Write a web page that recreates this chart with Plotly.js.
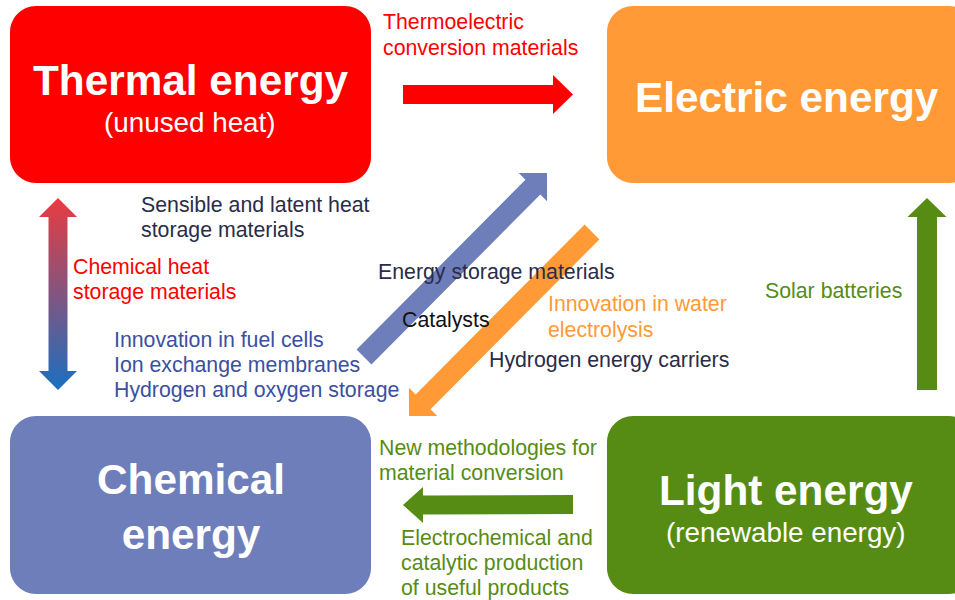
<!DOCTYPE html>
<html>
<head>
<meta charset="utf-8">
<script src="https://cdn.plot.ly/plotly-3.0.1.min.js"></script>
<style>html,body{margin:0;padding:0;background:#fff;}#chart{width:955px;height:600px;}</style>
</head>
<body>
<div id="chart"></div>
<script>
// ---- content (text and colours) ----
const boxTitles = ["Thermal energy", "Electric energy", "Chemical<br>energy", "Light energy"];
const boxSubtitles = ["(unused heat)", "", "", "(renewable energy)"];
const boxColors = ["#FF0000", "#FF9A36", "#6E7EBB", "#578C14"];

const arrowNames = ["thermoelectric", "solar", "storage", "electrolysis", "conversion", "chemheat"];
const arrowColors = ["#FF0000", "#578C14", "#6E7EBB", "#FF9A36", "#578C14", "gradient"];
const gradientColors = ["#EA3B40", "#1A6FC0"];

const noteLines = [
  "Thermoelectric", "conversion materials",
  "Sensible and latent heat", "storage materials",
  "Chemical heat", "storage materials",
  "Innovation in fuel cells", "Ion exchange membranes", "Hydrogen and oxygen storage",
  "Energy storage materials", "Catalysts",
  "Innovation in water", "electrolysis",
  "Hydrogen energy carriers",
  "Solar batteries",
  "New methodologies for", "material conversion",
  "Electrochemical and", "catalytic production", "of useful products"
];
const noteColors = [
  "#FF0000", "#FF0000",
  "#2A2C48", "#2A2C48",
  "#FF0000", "#FF0000",
  "#3B4FA0", "#3B4FA0", "#3B4FA0",
  "#2A2C48", "#111111",
  "#FF9A36", "#FF9A36",
  "#2A2C48",
  "#578C14",
  "#578C14", "#578C14",
  "#578C14", "#578C14", "#578C14"
];

// ---- layout geometry (pixel-space diagram coordinates) ----
const boxGeom = [
  {x0: 10, y0: 6, x1: 371, y1: 183, tx: 190, ty: 80, sy: 122},
  {x0: 607, y0: 6, x1: 975, y1: 183, tx: 787, ty: 97, sy: null},
  {x0: 10, y0: 416, x1: 371, y1: 594, tx: 191, ty: 507, sy: null},
  {x0: 607, y0: 416, x1: 975, y1: 594, tx: 786, ty: 490, sy: 532}
];
const arrowGeom = [
  {from: [403, 94.5], to: [573, 94.5], w: 9.5, h: 19.5, L: 20, dbl: false},
  {from: [927, 390], to: [927, 198], w: 10, h: 19.5, L: 19, dbl: false},
  {from: [364, 357], to: [547, 173], w: 10.5, h: 20, L: 20, dbl: false},
  {from: [592, 232], to: [409, 416], w: 10.5, h: 20, L: 20, dbl: false},
  {from: [573, 504.5], to: [403, 505], w: 9.5, h: 18, L: 20, dbl: false},
  {from: [58, 390], to: [58, 198], w: 9.5, h: 19, L: 19, dbl: true}
];
const notePos = [
  [384, 22], [384, 48],
  [142, 205], [142, 230],
  [74, 267], [74, 292],
  [115, 340], [115, 365], [115, 390],
  [379, 272], [403, 320],
  [549, 304], [549, 330],
  [490, 360],
  [766, 291],
  [380, 448], [380, 473],
  [402, 538], [402, 563], [402, 588]
];

function roundRectPath(b, r) {
  const {x0, y0, x1, y1} = b;
  const k = 0.45 * r;
  return `M${x0 + r},${y0} L${x1 - r},${y0} C${x1 - k},${y0} ${x1},${y0 + k} ${x1},${y0 + r} ` +
         `L${x1},${y1 - r} C${x1},${y1 - k} ${x1 - k},${y1} ${x1 - r},${y1} ` +
         `L${x0 + r},${y1} C${x0 + k},${y1} ${x0},${y1 - k} ${x0},${y1 - r} ` +
         `L${x0},${y0 + r} C${x0},${y0 + k} ${x0 + k},${y0} ${x0 + r},${y0} Z`;
}

function arrowPoly(g) {
  const [x0, y0] = g.from, [x1, y1] = g.to;
  const len = Math.hypot(x1 - x0, y1 - y0);
  const dx = (x1 - x0) / len, dy = (y1 - y0) / len;
  const nx = -dy, ny = dx;
  const P = (t, s) => [x0 + dx * t + nx * s, y0 + dy * t + ny * s];
  let pts;
  if (g.dbl) {
    pts = [P(0, 0), P(g.L, g.h), P(g.L, g.w), P(len - g.L, g.w), P(len - g.L, g.h), P(len, 0),
           P(len - g.L, -g.h), P(len - g.L, -g.w), P(g.L, -g.w), P(g.L, -g.h), P(0, 0)];
  } else {
    pts = [P(0, g.w), P(len - g.L, g.w), P(len - g.L, g.h), P(len, 0),
           P(len - g.L, -g.h), P(len - g.L, -g.w), P(0, -g.w), P(0, g.w)];
  }
  return {x: pts.map(p => p[0]), y: pts.map(p => p[1])};
}

const shapes = boxGeom.map((b, i) => ({
  type: "path", path: roundRectPath(b, 26), xref: "x", yref: "y",
  fillcolor: boxColors[i], line: {width: 0}, layer: "below"
}));

const traces = arrowGeom.map((g, i) => {
  const p = arrowPoly(g);
  const t = {
    type: "scatter", mode: "lines", x: p.x, y: p.y, fill: "toself",
    line: {width: 0, color: "rgba(0,0,0,0)"}, hoverinfo: "skip", name: arrowNames[i]
  };
  if (arrowColors[i] === "gradient") {
    t.fillgradient = {type: "vertical", start: 198, stop: 390,
      colorscale: [[0, gradientColors[0]], [1, gradientColors[1]]]};
  } else {
    t.fillcolor = arrowColors[i];
  }
  return t;
});

const annotations = [];
boxGeom.forEach((b, i) => {
  annotations.push({x: b.tx, y: b.ty, xref: "x", yref: "y", text: "<b>" + boxTitles[i].replace("<br>", "</b><br><b>") + "</b>",
    showarrow: false, xanchor: "center", yanchor: "middle",
    font: {family: "Liberation Sans, Arial, sans-serif", size: 42.3, color: "#FFFFFF"}});
  if (boxSubtitles[i]) {
    annotations.push({x: b.tx, y: b.sy, xref: "x", yref: "y", text: boxSubtitles[i],
      showarrow: false, xanchor: "center", yanchor: "middle",
      font: {family: "Liberation Sans, Arial, sans-serif", size: 27.8, color: "#FFFFFF"}});
  }
});
noteLines.forEach((txt, i) => {
  annotations.push({x: notePos[i][0], y: notePos[i][1], xref: "x", yref: "y", text: txt,
    showarrow: false, xanchor: "left", yanchor: "middle", xshift: -3,
    font: {family: "Liberation Sans, Arial, sans-serif", size: 21.3, color: noteColors[i]}});
});

const layout = {
  width: 955, height: 600,
  margin: {l: 0, r: 0, t: 0, b: 0, pad: 0},
  paper_bgcolor: "#FFFFFF", plot_bgcolor: "#FFFFFF",
  showlegend: false,
  xaxis: {range: [0, 955], visible: false, fixedrange: true},
  yaxis: {range: [600, 0], visible: false, fixedrange: true},
  shapes: shapes,
  annotations: annotations
};

Plotly.newPlot("chart", traces, layout, {displayModeBar: false, staticPlot: true});
</script>
</body>
</html>
